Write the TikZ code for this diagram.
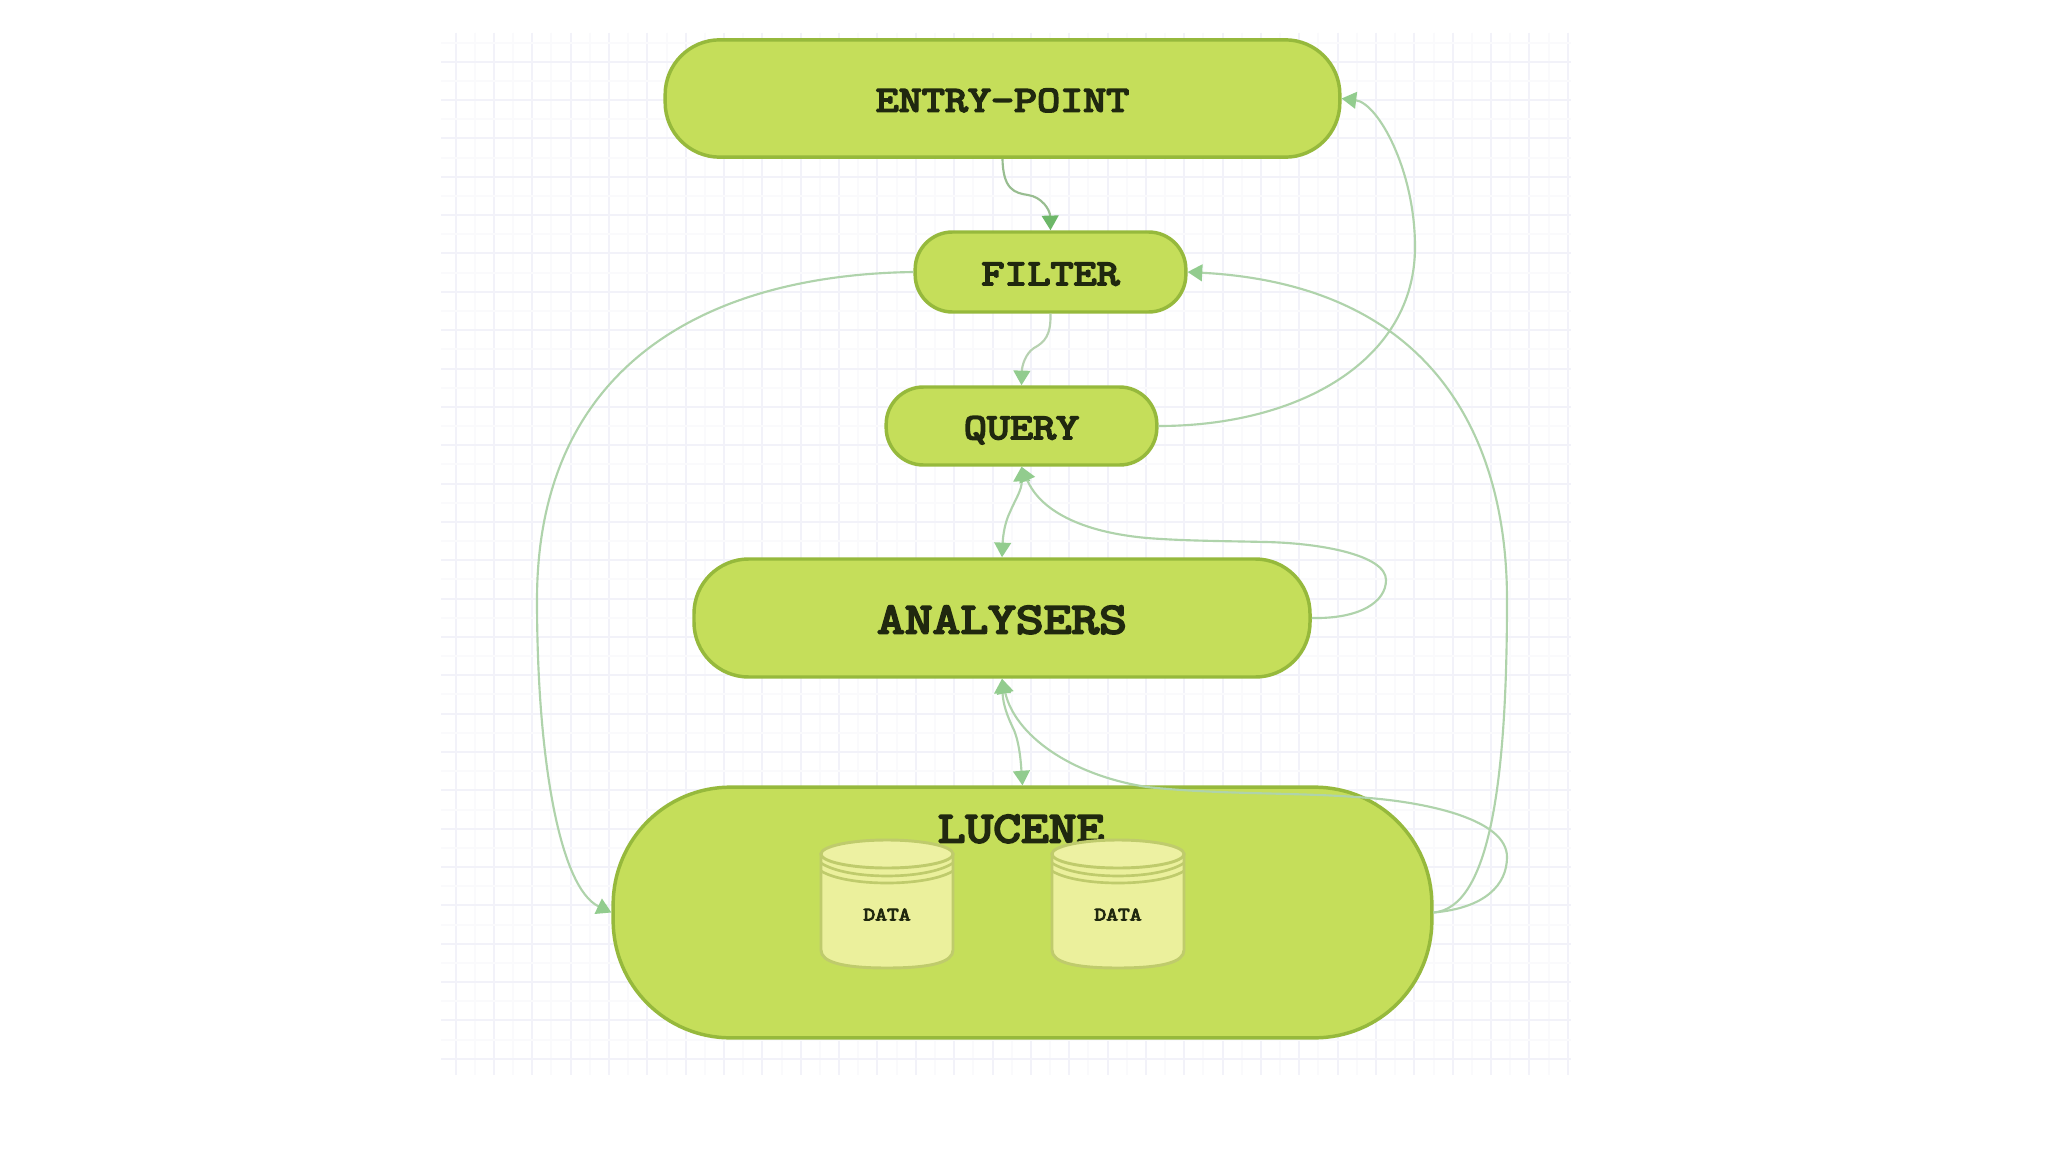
\documentclass[tikz,border=0pt]{standalone}
\usepackage{fontspec}
\usetikzlibrary{arrows.meta}
\newfontfamily\labf[FakeBold=5,FakeStretch=1.225]{Latin Modern Mono}
\definecolor{boxfill}{HTML}{C5DE5A}
\definecolor{boxedge}{HTML}{96B93C}
\definecolor{txt}{HTML}{20280F}
\definecolor{cylfill}{HTML}{EBF09C}
\definecolor{cyltop}{HTML}{EDF1A2}
\definecolor{cyledge}{HTML}{BFCB6C}
\definecolor{link}{HTML}{AFD3AB}
\definecolor{tip}{HTML}{92CC8E}
\definecolor{linkdark}{HTML}{98BD90}
\definecolor{tipdark}{HTML}{6DB768}
\definecolor{gridmain}{HTML}{F2F2F9}
\definecolor{gridfaint}{HTML}{FAFAFC}
\tikzset{
  bubble/.style={draw=boxedge,fill=boxfill,line width=2.6pt,inner sep=0pt,text=txt},
  smalltxt/.style={font=\labf\fontsize{27.4}{30}\selectfont,text height=19.6pt,text depth=0pt},
  largetxt/.style={font=\labf\fontsize{33}{36}\selectfont,text height=23pt,text depth=0pt},
  datatxt/.style={font=\labf\fontsize{14}{16}\selectfont,text=txt},
  conn/.style={draw=link,line width=1.6pt,-{Triangle[width=12.5pt,length=11pt,fill=tip,color=tip]}},
  conndark/.style={draw=linkdark,line width=1.6pt,-{Triangle[width=12.5pt,length=11pt,fill=tipdark,color=tipdark]}},
  conntwo/.style={draw=link,line width=1.6pt,{Triangle[width=12.5pt,length=11pt,fill=tip,color=tip]}-{Triangle[width=12.5pt,length=11pt,fill=tip,color=tip]}},
  cylbody/.style={draw=cyledge,fill=cylfill,line width=2.2pt},
  cyllid/.style={draw=cyledge,fill=cyltop,line width=2.2pt},
  cylring/.style={draw=cyledge,line width=2pt}
}
\begin{document}
\begin{tikzpicture}[x=0.75pt,y=-0.75pt]
\useasboundingbox (0,0) rectangle (2048,1152);
\fill[white] (0,0) rectangle (2048,1152);
% grid
\begin{scope}[line width=1.5pt]
\foreach \k in {1,...,29} {
  \draw[gridfaint] ({round(436.4+38.35*\k)},33) -- ({round(436.4+38.35*\k)},1075);
}
\foreach \k in {0,...,29} {
  \draw[gridmain] ({round(455.6+38.35*\k)},33) -- ({round(455.6+38.35*\k)},1075);
}
\foreach \k in {0,...,26} {
  \draw[gridfaint] (441,{round(42.5+38.35*\k)}) -- (1571,{round(42.5+38.35*\k)});
  \draw[gridmain] (441,{round(61.7+38.35*\k)}) -- (1571,{round(61.7+38.35*\k)});
}
\end{scope}
% nodes
\node[bubble,smalltxt,minimum width=506pt,minimum height=88pt,rounded corners=41pt] (entry) at (1002.5,98.5) {ENTRY-POINT};
\node[bubble,smalltxt,minimum width=203pt,minimum height=60pt,rounded corners=28pt] (filter) at (1050.5,272) {FILTER};
\node[bubble,smalltxt,minimum width=203pt,minimum height=58.5pt,rounded corners=28pt] (query) at (1021.5,426) {QUERY};
\node[bubble,largetxt,minimum width=462pt,minimum height=88.5pt,rounded corners=41pt] (analysers) at (1002,618) {ANALYSERS};
\node[bubble,minimum width=614pt,minimum height=188pt,rounded corners=88pt] (lucene) at (1022.5,912.5) {};
\node[largetxt,text=txt,inner sep=0pt] (lucenelabel) at (1021,827) {LUCENE};
% cylinders
\foreach \cx in {887,1118} {
\begin{scope}[shift={(\cx,0)}]
  \path[cylbody] (-66,854) -- (-66,950) .. controls (-66,962) and (-45,968) .. (0,968)
     .. controls (45,968) and (66,962) .. (66,950) -- (66,854) -- cycle;
  \path[cyllid] (0,854) ellipse [x radius=66,y radius=14];
  \draw[cylring] (-66,863) .. controls (-40,880.3) and (40,880.3) .. (66,863);
  \draw[cylring] (-66,871) .. controls (-40,887) and (40,887) .. (66,871);
\end{scope}
}
\node[datatxt,inner sep=0pt] (dataA) at (887,914.5) {DATA};
\node[datatxt,inner sep=0pt] (dataB) at (1118,914.5) {DATA};
% connectors
\draw[conndark] (entry.south) .. controls (1003,190) and (1015,193) .. (1028,195)
   .. controls (1042,197) and (1050,210) .. (filter.north);
\draw[conn,draw=linkdark!70!white] (filter.south) .. controls (1051,335) and (1045,342) .. (1034,348)
   .. controls (1026,353) and (1022,365) .. (query.north);
\draw[conntwo] (query.south) .. controls (1022,490) and (1015,500) .. (1010,512)
   .. controls (1005,522) and (1003,535) .. (analysers.north);
\draw[conntwo] (analysers.south) .. controls (1003,705) and (1008,718) .. (1014,730)
   .. controls (1020,745) and (1021,765) .. (lucene.north);
\draw[conn] (analysers.east) .. controls (1360,619) and (1386,602) .. (1386,580)
   .. controls (1386,555) and (1320,543) .. (1265,542)
   .. controls (1225,541) and (1185,541) .. (1147,538)
   .. controls (1080,532) and (1040,510) .. (query.south);
\draw[conn] (lucene.east) .. controls (1485,908) and (1507,885) .. (1507,857)
   .. controls (1507,820) and (1430,803) .. (1369,798)
   .. controls (1300,792) and (1220,795) .. (1147,787)
   .. controls (1070,775) and (1015,735) .. (analysers.south);
\draw[conn] (lucene.east) .. controls (1490,908) and (1507,780) .. (1507,600)
   .. controls (1507,440) and (1435,285) .. (filter.east);
\draw[conn] (query.east) .. controls (1300,426) and (1415,360) .. (1415,247)
   .. controls (1415,170) and (1378,103) .. (entry.east);
\draw[conn] (filter.west) .. controls (700,275) and (537,370) .. (537,600)
   .. controls (537,760) and (560,888) .. (lucene.west);
\end{tikzpicture}
\end{document}
